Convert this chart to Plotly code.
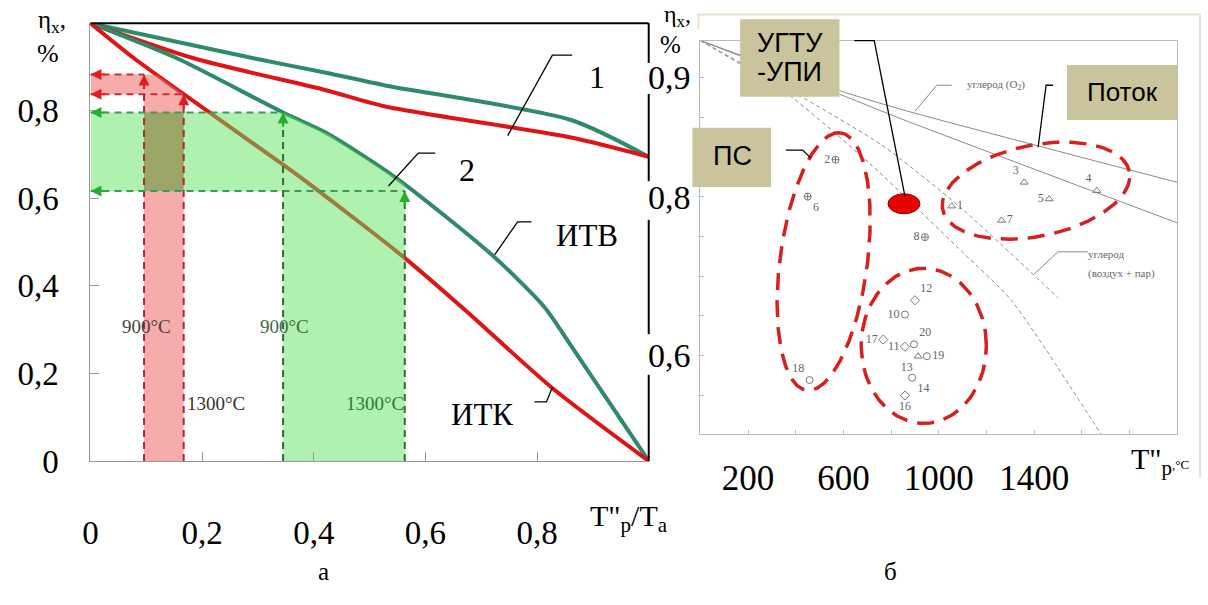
import numpy as np
import plotly.graph_objects as go

W, H = 1208, 605

# ---------------- Panel "а" data ----------------
# curves 1 (upper pair) and 2 (lower pair): eta_x vs T"p/Ta
ITV1_X = [0, 0.292, 0.422, 0.528, 0.861, 1.0]
ITV1_Y = [1.0, 0.920, 0.887, 0.858, 0.779, 0.695]
ITK1_X = [0, 0.185, 0.422, 0.528, 0.861, 1.0]
ITK1_Y = [1.0, 0.920, 0.847, 0.810, 0.739, 0.695]
ITV2_X = [0, 0.155, 0.345, 0.422, 0.546, 0.719, 0.813, 0.861, 1.0]
ITV2_Y = [1.0, 0.920, 0.796, 0.750, 0.648, 0.471, 0.352, 0.263, 0.0]
ITK2_X = [0, 0.078, 0.167, 0.345, 0.386, 0.560, 0.671, 0.826, 1.0]
ITK2_Y = [1.0, 0.920, 0.838, 0.677, 0.639, 0.467, 0.345, 0.168, 0.0]

# 900 / 1300 degC readings
RED_T = [0.096, 0.167]
RED_ETA = [0.883, 0.838]
GREEN_T = [0.345, 0.563]
GREEN_ETA = [0.796, 0.617]

A_TICKS = [0, 0.2, 0.4, 0.6, 0.8]
A_TICKTEXT = ["0", "0,2", "0,4", "0,6", "0,8"]

# ---------------- Panel "б" data ----------------
B_XTICKS = [200, 600, 1000, 1400]
B_XTICKTEXT = ["200", "600", "1000", "1400"]
B_YTICKS = [0.9, 0.8, 0.6667]
B_YTICKTEXT = ["0,9", "0,8", "0,6"]

O2_A_X = [0, 583, 846, 2000]
O2_A_Y = [0.931, 0.889, 0.873, 0.812]
O2_B_X = [0, 583, 846, 2000]
O2_B_Y = [0.931, 0.886, 0.865, 0.778]
AIR_A_X = [0, 367, 720, 1096, 1304, 1692]
AIR_A_Y = [0.931, 0.886, 0.826, 0.754, 0.713, 0.597]
AIR_B_X = [0, 388, 763, 1096, 1500]
AIR_B_Y = [0.931, 0.888, 0.843, 0.790, 0.715]

PS_ID = ["2", "6", "8"]
PS_X = [567, 450, 942]
PS_Y = [0.831, 0.800, 0.766]
TRI_ID = ["1", "3", "5", "4", "7", "13"]
TRI_X = [1054, 1358, 1463, 1663, 1263, 913]
TRI_Y = [0.792, 0.812, 0.798, 0.805, 0.780, 0.666]
CIR_ID = ["10", "20", "19", "14", "18"]
CIR_X = [858, 896, 950, 888, 458]
CIR_Y = [0.701, 0.676, 0.666, 0.648, 0.646]
DIA_ID = ["12", "17", "11", "16"]
DIA_X = [900, 767, 858, 858]
DIA_Y = [0.713, 0.680, 0.674, 0.633]
UGTU_X = [854]
UGTU_Y = [0.794]

# ---------------- layout geometry ----------------
A_L, A_R, A_T, A_B = 83, 645, 24, 476
B_L, B_R, B_T, B_B = 697, 1177, 42, 448
B_XRANGE = [0, 2000]
B_YRANGE = [0.6008, 0.9309]

SERIF = "Liberation Serif"
SANS = "Liberation Sans"
RED = "#e01414"
TEAL = "#2f8a68"


def P(x, y):
    return x / W, 1 - y / H


def path(points):
    s = ""
    for i, (x, y) in enumerate(points):
        u, v = P(x, y)
        s += ("M" if i == 0 else "L") + f"{u:.5f},{v:.5f} "
    return s


fig = go.Figure()

# ----- panel а curves -----
for xs, ys, col in [(ITV1_X, ITV1_Y, TEAL), (ITK1_X, ITK1_Y, RED),
                    (ITV2_X, ITV2_Y, TEAL), (ITK2_X, ITK2_Y, RED)]:
    fig.add_trace(go.Scatter(x=xs, y=ys, mode="lines",
                             line=dict(color=col, width=4, shape="spline", smoothing=0.7),
                             xaxis="x", yaxis="y", hoverinfo="skip"))

# ----- shaded bands -----
def band(t, eta, cx, cy):
    xs = np.linspace(t[0], t[1], 40)
    top = np.minimum(np.interp(xs, cx, cy), eta[0])
    px = [0, 0, t[0]] + list(xs) + [t[1], t[0], t[0], 0]
    py = [eta[1], eta[0], eta[0]] + list(top) + [0, 0, eta[1], eta[1]]
    return px, py

px_, py_ = band(RED_T, RED_ETA, ITK2_X, ITK2_Y)
fig.add_trace(go.Scatter(x=px_, y=py_, mode="lines", fill="toself", line=dict(width=0),
                         fillcolor="rgba(240,95,95,0.52)", xaxis="x", yaxis="y", hoverinfo="skip"))
gx_, gy_ = band(GREEN_T, GREEN_ETA, ITV2_X, ITV2_Y)
fig.add_trace(go.Scatter(x=gx_, y=gy_, mode="lines", fill="toself", line=dict(width=0),
                         fillcolor="rgba(95,228,95,0.5)", xaxis="x", yaxis="y", hoverinfo="skip"))
fig.add_trace(go.Scatter(x=[RED_T[0], RED_T[1], RED_T[1], RED_T[0], RED_T[0]],
                         y=[GREEN_ETA[1], GREEN_ETA[1], GREEN_ETA[0], GREEN_ETA[0], GREEN_ETA[1]],
                         mode="lines", fill="toself", line=dict(width=0),
                         fillcolor="rgba(140,130,70,0.5)", xaxis="x", yaxis="y", hoverinfo="skip"))

# ----- dashed reading lines -----
def hv(t, eta):
    hx, hy, vx, vy = [], [], [], []
    for a, b in zip(t, eta):
        hx += [0, a, None]; hy += [b, b, None]
        vx += [a, a, None]; vy += [0, b, None]
    return hx, hy, vx, vy

hx, hy, vx, vy = hv(RED_T, RED_ETA)
fig.add_trace(go.Scatter(x=hx, y=hy, mode="lines", line=dict(color="#d8283a", width=2, dash="7px,5px"),
                         xaxis="x", yaxis="y", hoverinfo="skip"))
fig.add_trace(go.Scatter(x=vx, y=vy, mode="lines", line=dict(color="#b0243e", width=2, dash="7px,5px"),
                         xaxis="x", yaxis="y", hoverinfo="skip"))
hx, hy, vx, vy = hv(GREEN_T, GREEN_ETA)
fig.add_trace(go.Scatter(x=hx, y=hy, mode="lines", line=dict(color="#3a9a58", width=2, dash="7px,5px"),
                         xaxis="x", yaxis="y", hoverinfo="skip"))
fig.add_trace(go.Scatter(x=vx, y=vy, mode="lines", line=dict(color="#2c6e3a", width=2, dash="7px,5px"),
                         xaxis="x", yaxis="y", hoverinfo="skip"))

annotations = []
for t, eta, col in [(RED_T, RED_ETA, "#e02020"), (GREEN_T, GREEN_ETA, "#22b030")]:
    for a, b in zip(t, eta):
        annotations.append(dict(x=0, y=b, xref="x", yref="y", ax=16, ay=0, text="",
                                showarrow=True, arrowhead=2, arrowsize=1.1, arrowwidth=2, arrowcolor=col))
        annotations.append(dict(x=a, y=b, xref="x", yref="y", ax=0, ay=16, text="",
                                showarrow=True, arrowhead=2, arrowsize=1.1, arrowwidth=2, arrowcolor=col))

# ----- panel б lines -----
for xs, ys, dash in [(O2_A_X, O2_A_Y, "solid"), (O2_B_X, O2_B_Y, "solid"),
                     (AIR_A_X, AIR_A_Y, "4px,3px"), (AIR_B_X, AIR_B_Y, "4px,3px")]:
    fig.add_trace(go.Scatter(x=xs, y=ys, mode="lines",
                             line=dict(color="#8a8a8a", width=1, dash=dash, shape="spline", smoothing=0.6),
                             xaxis="x2", yaxis="y2", hoverinfo="skip"))

# ----- dashed ellipses (groups) -----
BX_PX = (B_R - B_L) / (B_XRANGE[1] - B_XRANGE[0])
BY_PX = (B_B - B_T) / (B_YRANGE[1] - B_YRANGE[0])


def ellipse(cx, cy, a, b, ang):
    t = np.linspace(0, 2 * np.pi, 240)
    th = np.radians(ang)
    dx = a * np.cos(t) * np.cos(th) - b * np.sin(t) * np.sin(th)
    dy = a * np.cos(t) * np.sin(th) + b * np.sin(t) * np.cos(th)
    return cx + dx / BX_PX, cy + dy / BY_PX

for cx, cy, a, b, ang in [(517, 0.7455, 134, 44, 82.7), (937, 0.6748, 63, 80, 0),
                          (1408, 0.805, 96, 47, 12)]:
    ex, ey = ellipse(cx, cy, a, b, ang)
    fig.add_trace(go.Scatter(x=ex, y=ey, mode="lines",
                             line=dict(color="#d81e1e", width=3.5, dash="17px,10px"),
                             xaxis="x2", yaxis="y2", hoverinfo="skip"))

# ----- markers -----
def pts(ids, xs, ys, sym, pos):
    fig.add_trace(go.Scatter(x=xs, y=ys, text=ids, mode="markers+text", textposition=pos,
                             marker=dict(symbol=sym, size=7, color="#777", line=dict(width=1, color="#777")),
                             textfont=dict(family=SERIF, size=12, color="#666"),
                             xaxis="x2", yaxis="y2", hoverinfo="skip", cliponaxis=False))

pts(PS_ID, PS_X, PS_Y, "circle-cross-open", ["middle left", "bottom right", "middle left"])
pts(TRI_ID, TRI_X, TRI_Y, "triangle-up-open",
    ["middle right", "top left", "middle left", "top left", "middle right", "bottom left"])
pts(CIR_ID, CIR_X, CIR_Y, "circle-open",
    ["middle left", "top right", "middle right", "bottom right", "top left"])
pts(DIA_ID, DIA_X, DIA_Y, "diamond-open", ["top right", "middle left", "middle left", "bottom center"])

shapes = []
shapes.append(dict(type="circle", xref="x2", yref="y2", xsizemode="pixel", ysizemode="pixel",
                   xanchor=UGTU_X[0], yanchor=UGTU_Y[0], x0=-16, x1=16, y0=-10, y1=10,
                   fillcolor="#e80000", line=dict(color="#900", width=1)))

# ----- frames -----
line_black = dict(color="black", width=2)
shapes.append(dict(type="path", xref="paper", yref="paper", path=path([(A_L, A_T), (A_R, A_T)]), line=line_black))
for y0, y1 in [(24, 65), (97, 187), (227, 345), (387, 476)]:
    shapes.append(dict(type="path", xref="paper", yref="paper", path=path([(A_R, y0), (A_R, y1)]), line=line_black))
frame = dict(color="#e4e4d4", width=2)
shapes.append(dict(type="path", xref="paper", yref="paper",
                   path=path([(695, 30), (695, 15), (1200, 15), (1200, 493)]), line=frame))

# leaders
lead = dict(color="black", width=1.3)
for pts_ in [[(568, 57), (548, 57), (503, 140)],
             [(430, 158), (413, 158), (383, 192)],
             [(527, 229), (513, 229), (490, 263)],
             [(530, 415), (542, 415), (548, 400)],
             [(852, 42), (872, 42), (903, 203)],
             [(783, 155), (800, 155), (808, 163)],
             [(1052, 88), (1045, 88), (1037, 152)]]:
    shapes.append(dict(type="path", xref="paper", yref="paper", path=path(pts_), line=lead))
thin = dict(color="#888", width=1)
for pts_ in [[(950, 88), (935, 88), (913, 115)], [(1087, 260), (1057, 260), (1033, 283)]]:
    shapes.append(dict(type="path", xref="paper", yref="paper", path=path(pts_), line=thin))

# khaki boxes
for x0, y0, x1, y1 in [(737, 20, 837, 100), (689, 132, 768, 193), (1066, 67, 1177, 124)]:
    u0, v0 = P(x0, y1); u1, v1 = P(x1, y0)
    shapes.append(dict(type="rect", xref="paper", yref="paper", x0=u0, y0=v0, x1=u1, y1=v1,
                       fillcolor="#c9c49c", line=dict(width=0)))


def txt(x, y, s, size, family=SERIF, color="black", xanchor="center", yanchor="middle"):
    u, v = P(x, y)
    annotations.append(dict(x=u, y=v, xref="paper", yref="paper", text=s, showarrow=False,
                            xanchor=xanchor, yanchor=yanchor, font=dict(family=family, size=size, color=color)))

txt(44, 22, "η<sub>x</sub>,", 25)
txt(40, 55, "%", 26)
txt(674, 17, "η<sub>x</sub>,", 24)
txt(667, 46, "%", 25)
txt(593, 80, "1", 32)
txt(462, 175, "2", 32)
txt(583, 243, "ИТВ", 31)
txt(477, 428, "ИТК", 31)
txt(139, 337, "900°C", 19, color="#444")
txt(209, 417, "1300°C", 19, color="#333")
txt(278, 337, "900°C", 19, color="#3c6a44")
txt(369, 417, "1300°C", 19, color="#2a7a3a")
txt(625, 535, "T\"<sub>p</sub>/T<sub>a</sub>", 30)
txt(1160, 476, "T\"<sub>p</sub><span style='font-size:13px'>,°C</span>", 30)
txt(318, 590, "а", 25)
txt(888, 590, "б", 25)
txt(787, 44, "УГТУ", 27, SANS)
txt(787, 74, "-УПИ", 27, SANS)
txt(729, 161, "ПС", 27, SANS)
txt(1122, 95, "Поток", 26, SANS)
txt(963, 88, "углерод (O<sub>2</sub>)", 11, color="#666", xanchor="left")
txt(1085, 262, "углерод", 11, color="#666", xanchor="left")
txt(1085, 282, "(воздух + пар)", 11, color="#666", xanchor="left")

axis_common = dict(showgrid=False, zeroline=False)
fig.update_layout(
    width=W, height=H, autosize=False, margin=dict(l=0, r=0, t=0, b=0),
    paper_bgcolor="white", plot_bgcolor="rgba(0,0,0,0)", showlegend=False,
    font=dict(family=SERIF, color="black"),
    xaxis=dict(domain=[A_L / W, A_R / W], range=[0, 1], anchor="y", showline=True, linecolor="#999",
               linewidth=1, ticks="inside", ticklen=9, tickcolor="#999", tickvals=A_TICKS,
               ticktext=A_TICKTEXT, tickfont=dict(size=33), ticklabelstandoff=42, **axis_common),
    yaxis=dict(domain=[1 - A_B / H, 1 - A_T / H], range=[0, 1], anchor="x", showline=True, linecolor="#999",
               linewidth=1, ticks="inside", ticklen=9, tickcolor="#999", tickvals=A_TICKS,
               ticktext=A_TICKTEXT, tickfont=dict(size=33), ticklabelstandoff=24, **axis_common),
    xaxis2=dict(domain=[B_L / W, B_R / W], range=B_XRANGE, anchor="y2", showline=True, mirror=True,
                linecolor="#bbb", linewidth=1, ticks="inside", ticklen=4, tickcolor="#bbb",
                tickvals=B_XTICKS, ticktext=B_XTICKTEXT, tickfont=dict(size=35), ticklabelstandoff=13,
                minor=dict(dtick=200, ticks="inside", ticklen=4, tickcolor="#bbb"), **axis_common),
    yaxis2=dict(domain=[1 - B_B / H, 1 - B_T / H], range=B_YRANGE, anchor="x2", showline=True, mirror=True,
                linecolor="#bbb", linewidth=1, ticks="inside", ticklen=4, tickcolor="#bbb",
                tickvals=B_YTICKS, ticktext=B_YTICKTEXT, tickfont=dict(size=34), ticklabelstandoff=2,
                minor=dict(tick0=0.9, dtick=1 / 30, ticks="inside", ticklen=4, tickcolor="#bbb"),
                **axis_common),
    shapes=shapes, annotations=annotations,
)

fig.write_html("out.html")
